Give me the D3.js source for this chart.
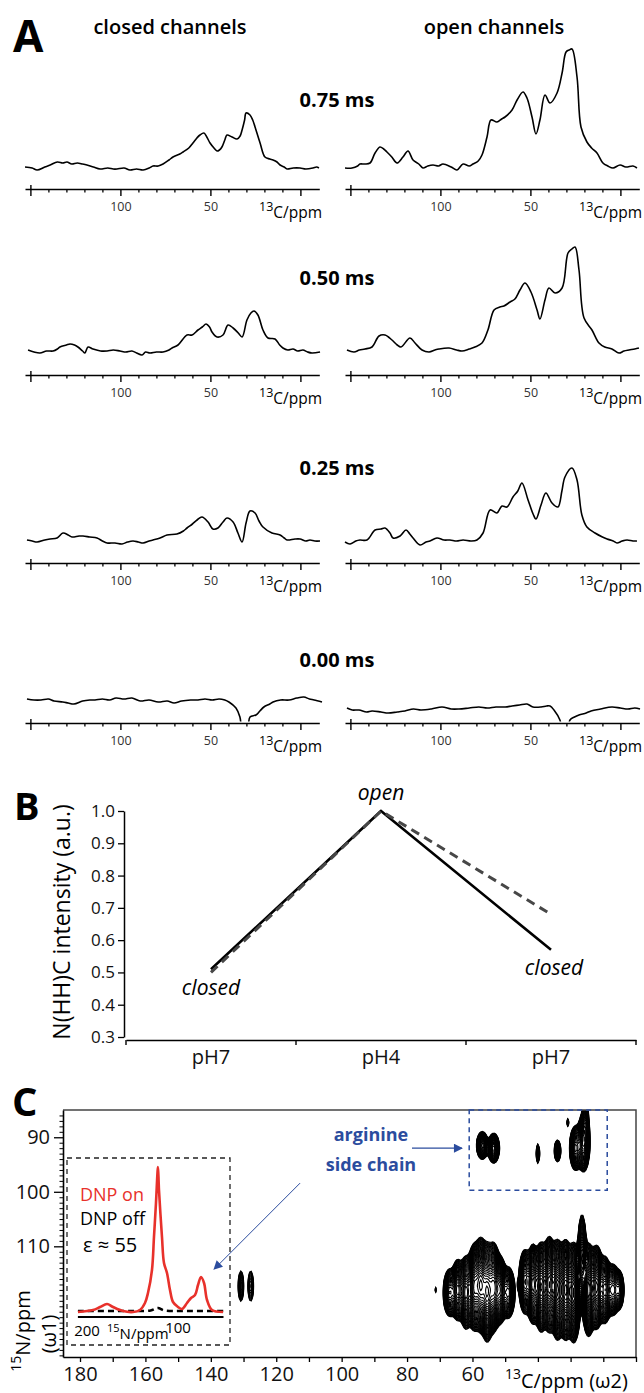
<!DOCTYPE html>
<html>
<head>
<meta charset="utf-8">
<script src="https://cdn.jsdelivr.net/npm/d3@7"></script>
<style>
  body { margin: 0; background: #fff; }
  svg { display: block; }
  text { font-family: "Open Sans", "Noto Sans", sans-serif; }
</style>
</head>
<body>
<svg id="fig" width="644" height="1393"></svg>
<script>
// ---- panel A spectra: [13C ppm, intensity] ----
const closed075 = [[153,1],[149,0],[146.3,-2],[142,1],[139,3],[135,6],[132,5],[129.7,6],[127,4],[124,5],[121,4],[118.6,3],[115,1],[111.3,-1],[107,0],[104,-1],[101.9,-1],[98,0],[94.7,-2],[91,-1],[87.4,-2],[84,0],[81.9,2],[79,2],[76.3,4],[73,8],[70.8,11],[67,14],[65.2,16],[62,20],[59.7,25],[57.5,30],[55.8,33],[53.6,35],[52,31],[50.2,25],[48,20],[46.3,17],[45,18],[43.6,21],[42,28],[40.8,33],[38,31],[35.2,29],[33.5,32],[32.4,38],[31,48],[30.2,55],[28,53],[26.5,48],[25.2,41],[22.4,25],[19.7,11],[17,9],[15.2,8],[13,6],[11.3,3],[9,1],[7.4,-1],[4,0],[0.2,0],[-3,-1],[-7,0],[-9,1],[-10.3,0]];
const open075 = [[153,-1],[149.1,-1],[146,1],[144.7,3],[142,3],[139.1,4],[136.3,14],[133.6,20],[131.5,18],[129.7,15],[127,10],[124.1,4],[120.8,10],[118,16],[115.2,7],[112,3],[109.7,-1],[107,1],[104.1,2],[101,1],[98.6,3],[94,0],[90.8,-3],[87.4,3],[84,1],[81.9,3],[79,6],[76.9,12],[74.1,30],[71.9,47],[68.6,45],[66,48],[64.1,50],[60.2,57],[57.4,67],[54.1,75],[51.9,69],[49.1,50],[46.9,33],[44.7,47],[41.9,72],[39.1,64],[35.2,74],[32.4,94],[30.2,115],[28.5,117],[26.9,118],[24.1,90],[21.9,40],[18.6,25],[16,19],[13,14],[9.7,4],[7,1],[4.1,-1],[0.2,2],[-3,0],[-7,1],[-9.2,-1]];
const closed050 = [[151.3,1],[148,-1],[144.7,-2],[141,0],[137.4,0],[135,2],[133.6,4],[130,6],[128,7],[125.5,6],[123.6,4],[121,0],[119.7,-2],[118,4],[115.2,2],[111,0],[107.4,0],[104,1],[100.2,0],[97,-1],[93.6,0],[91,-2],[88,-4],[86,-1],[83.6,-2],[80,-1],[76.3,-1],[73,1],[71.3,3],[68,6],[63,16],[60.2,16],[56.9,21],[54.5,24],[52.4,27],[50.5,24],[49.1,19],[46.3,14],[43,16],[40.2,26],[37.4,23],[34.5,18],[32.4,14],[29.7,31],[27.5,38],[25.8,40],[23.6,36],[20.8,21],[18,13],[14.1,12],[11.5,6],[9.7,3],[7,1],[4.1,2],[1.5,0],[-1.4,1],[-4,-1],[-6.4,-2],[-10.9,-1]];
const open050 = [[151.9,0],[148,-2],[145,0],[141.9,1],[138,3],[134.1,14],[130.8,15],[126.9,10],[124,5],[121.9,3],[116.9,12],[114.1,7],[110.2,0],[106.3,-2],[103,0],[100.8,1],[95.2,2],[91,0],[88,-1],[84,1],[80.8,3],[76.9,7],[73.6,20],[70.2,40],[67,43],[64.7,44],[61.3,48],[58.6,51],[55.8,60],[53,67],[49.7,58],[46.3,40],[44.7,31],[41.9,50],[39.7,62],[36.3,57],[32.4,62],[29.1,97],[27,101],[25.2,103],[23,80],[20.2,32],[15.8,20],[11.9,7],[8.7,3],[4.7,1],[0.8,-3],[-2,-1],[-4.8,0],[-8,1],[-10.3,2]];
const closed025 = [[151.9,1],[149,0],[146.3,-1],[142,1],[139.1,2],[135.2,3],[131.9,8],[129,6],[126.9,4],[123,5],[120.8,5],[117,4],[113,3],[110,0],[107.4,-2],[103,-2],[99.1,-3],[96,-1],[93,0],[90,-1],[87.4,-2],[84,0],[81.9,1],[78,3],[74.1,6],[68.6,7],[65,10],[63,13],[60,17],[57.4,21],[54.7,24],[51.3,19],[48.6,12],[45.8,13],[43,19],[40.8,23],[37.4,19],[34.7,8],[32.4,-1],[30.2,18],[28,30],[25.2,28],[23,20],[20.8,14],[15.8,8],[11.3,6],[9,3],[7.4,1],[3,2],[0.2,2],[-3,0],[-5.3,1],[-8,0],[-10.9,0]];
const open025 = [[153,-1],[150.2,-3],[147,0],[144.7,1],[140.8,1],[136.3,11],[133,12],[130.8,13],[128,8],[126.3,3],[122.4,5],[119.1,11],[117,7],[115.2,3],[111.3,-4],[108,-1],[105.8,0],[101.9,3],[98,1],[94.7,1],[91,0],[87.4,1],[83,0],[79.7,1],[76.3,8],[72.4,31],[68.6,28],[65.8,35],[63,34],[59.7,44],[57,50],[54.7,58],[51.3,41],[48.5,27],[46.9,22],[44.1,36],[41.4,48],[38,38],[34.7,34],[32.5,50],[30.8,64],[26.9,73],[24.1,61],[21.4,26],[18.6,14],[14.1,8],[10,4],[7.4,2],[4,0],[1.9,-2],[-1,0],[-3.7,1],[-7,0],[-9.2,0]];
const closed000 = [[151.9,1],[148,0],[144.1,0],[140,1],[136.9,-1],[132,-2],[129,-3],[125.8,-4],[121,-1],[117,0],[114.1,0],[110,1],[106,0],[102.4,2],[98,1],[93.6,2],[89,-1],[84.1,0],[79,-2],[74,-1],[70.2,-3],[66,-1],[61,0],[56.9,0],[53,1],[49,0],[45.2,1],[42,0],[39.7,-2],[35.8,-8],[33.6,-17],[31.9,-35],[29.7,-35],[28,-17],[24.7,-15],[22.5,-11],[20.3,-7],[17,-4],[15.2,-2],[11,0],[6.3,0],[2,2],[-1.9,3],[-5,1],[-7.6,0],[-12,-2]];
const open000 = [[151.9,2],[149,0],[145.2,0],[141,-2],[138,-1],[133,-2],[129.1,-3],[124,-2],[119.7,-1],[115,1],[110.8,0],[105,1],[99.1,3],[94,1],[89.7,1],[84,2],[78.6,3],[74,2],[69.1,3],[64,3],[60.2,4],[56,5],[51.9,6],[48.6,3],[44.1,3],[41,4],[39.1,4],[36.9,0],[33.6,-10],[31.9,-25],[29.7,-25],[28,-10],[25.5,-7],[23,-5],[19,-3],[16.3,-1],[11,1],[4.7,3],[0,2],[-4.2,1],[-8,2],[-10.9,1]];

const delays = ["0.75 ms", "0.50 ms", "0.25 ms", "0.00 ms"];
const closedSpectra = [closed075, closed050, closed025, closed000];
const openSpectra = [open075, open050, open025, open000];
const ppmMajor = [150, 100, 50, 0];
const ppmLabeled = [100, 50];

// ---- panel B ----
const phCategories = ["pH7 (start)", "pH4", "pH7 (end)"];
const phLabels = ["pH7", "pH4", "pH7"];
const stateLabels = ["closed", "open", "closed"];
const intensitySolid = [0.51, 1.0, 0.57];
const intensityDashed = [0.50, 1.0, 0.68];
const intensityTicks = [0.3, 0.4, 0.5, 0.6, 0.7, 0.8, 0.9, 1.0];

// ---- panel C: 2D peaks [13C ppm, 15N ppm, width C, width N, amplitude] ----
const argininePeaks = [[57,91.5,0.9,1.3,0.35],[53.5,92,0.9,1.4,0.35],[40,93,0.35,1.2,0.15],[34,92.5,0.6,1.2,0.2],[28.5,92,0.9,2.0,0.4],[26,91,0.9,2.5,0.5],[25.5,87,0.5,2.0,0.3],[30.8,87.3,0.25,0.6,0.1]];
const backbonePeaks = [[67,118.5,1.0,2.2,0.35],[64.5,118,0.9,2.6,0.5],[62,118.5,0.9,3.0,0.6],[59.5,117.5,0.9,3.4,0.75],[57.5,117,0.9,3.6,0.85],[55.5,118.5,0.9,3.8,0.85],[53.5,117.5,0.9,3.5,0.75],[51.5,118,0.9,2.8,0.55],[49,118.5,1.0,2.3,0.4],
  [44,116.5,0.9,2.8,0.45],[41.5,117,0.9,3.2,0.65],[39,117.5,0.9,3.5,0.8],[36.5,117,0.9,3.7,0.85],[34,118,0.9,3.8,0.95],[31.5,118,0.9,3.8,0.95],[29,118.5,0.9,3.8,0.95],[26.5,112,0.6,3.5,0.6],[24.5,118,0.9,3.6,0.85],[22,117.5,0.9,3.3,0.75],[19.5,118,0.9,2.8,0.55],[17,118,1.0,2.3,0.4],[15,118,0.7,1.8,0.28]];
const otherPeaks = [[130.8,117.3,0.65,2.1,0.12],[127.8,117.3,0.65,2.1,0.12],[71.3,118,0.3,0.6,0.07],[41.5,110.5,0.25,0.4,0.07],[45.8,117,0.25,0.8,0.08]];
const c13Ticks = d3.range(180, 9, -10);
const c13Labeled = [180, 160, 140, 120, 100, 80, 60];
const n15Labeled = [90, 100, 110];

// ---- inset 1D 15N: [15N ppm, intensity] ----
const dnpOn = [[209.9,0],[193.4,2],[185.7,5],[178,8],[171.4,5],[160.4,1],[149.5,0],[141.8,2],[136.3,9],[133,19],[128.6,42],[126.4,75],[124.2,109],[122.5,140],[122,145],[120.9,122],[117.6,75],[115.4,49],[112.1,39],[108.8,22],[105.5,10],[100,5],[95.6,3],[90.1,9],[85.7,14],[81.3,17],[78,27],[74.7,35],[71.4,29],[68.1,12],[62.6,2],[50.5,0]];
const dnpOff = [[210,1],[150,1],[130,1.5],[122,4],[115,1.5],[90,1],[50,1]];

const svg = d3.select("#fig");
const defs = svg.append("defs");
const mono = "'DejaVu Sans Mono', monospace";

// ================= PANEL A =================
const gA = svg.append("g");
gA.append("text").attr("x", 13).attr("y", 52).attr("font-size", 44).attr("font-weight", 700).text("A");
gA.append("text").attr("x", 170).attr("y", 34).attr("text-anchor", "middle")
  .attr("font-size", 20).attr("font-weight", 600).text("closed channels");
gA.append("text").attr("x", 494).attr("y", 34).attr("text-anchor", "middle")
  .attr("font-size", 20).attr("font-weight", 600).text("open channels");

const xLeft = d3.scaleLinear().domain([153, -10.5]).range([25, 319.3]);
const xRight = d3.scaleLinear().domain([153, -10.5]).range([345, 639.3]);

const rowLayout = [
  { labelY: 107, axisY: 189, base: [168, 167] },
  { labelY: 285, axisY: 375, base: [351, 350] },
  { labelY: 475, axisY: 563, base: [541, 541] },
  { labelY: 667, axisY: 723, base: [700, 710] },
];

const line = d3.line().curve(d3.curveCatmullRom.alpha(0.5));

rowLayout.forEach((row, i) => {
  gA.append("text").attr("x", 337).attr("y", row.labelY).attr("text-anchor", "middle")
    .attr("font-size", 20).attr("font-weight", 700).text(delays[i]);

  [[xLeft, closedSpectra[i]], [xRight, openSpectra[i]]].forEach(([x, data], side) => {
    const y = d3.scaleLinear().domain([0, 100]).range([row.base[side], row.base[side] - 100]);
    const id = `clipA${i}${side}`;
    defs.append("clipPath").attr("id", id).append("rect")
      .attr("x", x.range()[0] - 2).attr("width", x.range()[1] - x.range()[0] + 6)
      .attr("y", row.axisY - 200).attr("height", 198.5);
    gA.append("path")
      .attr("clip-path", `url(#${id})`)
      .attr("d", line.x(d => x(d[0])).y(d => y(d[1]))(data))
      .attr("fill", "none").attr("stroke", "#000").attr("stroke-width", 1.6)
      .attr("stroke-linejoin", "round");

    const ax = gA.append("g").attr("transform", `translate(0,${row.axisY})`)
      .call(d3.axisBottom(x).tickValues(ppmMajor).tickSize(7).tickSizeOuter(0)
        .tickFormat(d => ppmLabeled.includes(d) ? d : ""));
    ax.select(".domain").attr("stroke-width", 1.6);
    ax.selectAll(".tick line").attr("stroke-width", 1.4)
      .attr("y1", d => d === 150 ? -4 : 0);
    ax.selectAll(".tick text").attr("font-family", mono).attr("font-size", 12.5)
      .attr("fill", "#333").attr("y", 13.5);
    const minor = gA.append("g").attr("transform", `translate(0,${row.axisY})`)
      .call(d3.axisBottom(x).tickValues(d3.range(10, 150, 10).filter(d => d % 50 !== 0))
        .tickSize(3.5).tickSizeOuter(0).tickFormat(""));
    minor.select(".domain").remove();
    minor.selectAll(".tick line").attr("stroke-width", 1.3);

    const lab = gA.append("text").attr("x", x(23)).attr("y", row.axisY + 29).attr("font-size", 15.5);
    lab.append("tspan").attr("font-size", 12.5).attr("dy", -7).text("13");
    lab.append("tspan").attr("dy", 7).text("C/ppm");
  });
});

// ================= PANEL B =================
const gB = svg.append("g");
gB.append("text").attr("x", 14).attr("y", 820).attr("font-size", 38).attr("font-weight", 700).text("B");

const xB = d3.scaleBand().domain(phCategories).range([126, 636]);
const yB = d3.scaleLinear().domain([0.3, 1.0]).range([1037, 811]);

const yAxB = gB.append("g").attr("transform", "translate(124,0)")
  .call(d3.axisLeft(yB).tickValues(intensityTicks).tickFormat(d3.format(".1f")).tickSize(6).tickSizeOuter(0));
yAxB.select(".domain").attr("stroke-width", 1.5);
yAxB.selectAll(".tick line").attr("stroke-width", 1.3);
yAxB.selectAll(".tick text").attr("font-size", 17).attr("fill", "#111");

const xAxB = gB.append("g").attr("transform", "translate(0,1040)")
  .call(d3.axisBottom(xB).tickSize(0).tickSizeOuter(0).tickFormat((d, i) => phLabels[i]));
xAxB.select(".domain").attr("stroke-width", 1.5);
xAxB.selectAll(".tick text").attr("font-size", 20).attr("y", 10).attr("fill", "#111");
gB.selectAll("line.edge")
  .data(phCategories.map(d => xB(d)).concat([xB.range()[1]]))
  .join("line").attr("class", "edge")
  .attr("x1", d => d).attr("x2", d => d).attr("y1", 1040).attr("y2", 1045)
  .attr("stroke", "#000").attr("stroke-width", 1.4);

const bLine = d3.line().x((d, i) => xB(phCategories[i]) + xB.bandwidth() / 2).y(d => yB(d));
gB.append("path").attr("d", bLine(intensitySolid)).attr("fill", "none")
  .attr("stroke", "#000").attr("stroke-width", 2.6);
gB.append("path").attr("d", bLine(intensityDashed)).attr("fill", "none")
  .attr("stroke", "#474747").attr("stroke-width", 3).attr("stroke-dasharray", "9,6");

const stateY = [995, 800, 975];
gB.selectAll("text.state").data(stateLabels).join("text").attr("class", "state")
  .attr("x", (d, i) => xB(phCategories[i]) + xB.bandwidth() / 2 + (i === 2 ? 3 : 0))
  .attr("y", (d, i) => stateY[i])
  .attr("text-anchor", "middle").attr("font-size", 21).attr("font-style", "italic").text(d => d);

gB.append("text").attr("transform", "translate(70,922) rotate(-90)")
  .attr("text-anchor", "middle").attr("font-size", 23).text("N(HH)C intensity (a.u.)");

// ================= PANEL C =================
const gC = svg.append("g");
gC.append("text").attr("x", 12).attr("y", 1116).attr("font-size", 40).attr("font-weight", 700).text("C");

const cx0 = 63, cx1 = 636, cy0 = 1110, cy1 = 1357;
const xC = d3.scaleLinear().domain([185.2, 10]).range([cx0, cx1]);
const yN = d3.scaleLinear().domain([85, 130.3]).range([cy0, cy1]);

defs.append("clipPath").attr("id", "clipC").append("rect")
  .attr("x", cx0).attr("y", cy0).attr("width", cx1 - cx0).attr("height", cy1 - cy0);

// contour map from the peak list
const allPeaks = argininePeaks.concat(backbonePeaks, otherPeaks);
const nx = 382, ny = 165;
const gx = d3.scaleLinear().domain([0, nx]).range([cx0, cx1]);
const gy = d3.scaleLinear().domain([0, ny]).range([cy0, cy1]);
const values = new Float64Array(nx * ny);
for (let j = 0; j < ny; j++) {
  const n = yN.invert(gy(j + 0.5));
  for (let i = 0; i < nx; i++) {
    const c = xC.invert(gx(i + 0.5));
    let v = 0;
    for (const [c0, n0, wc, wn, a] of allPeaks) {
      const dc = (c - c0) / wc, dn = (n - n0) / wn;
      v += a * Math.exp(-0.5 * (dc * dc + dn * dn));
    }
    values[j * nx + i] = v;
  }
}
const levels = d3.range(48).map(k => 0.05 * Math.pow(1.085, k));
const contours = d3.contours().size([nx, ny]).thresholds(levels)(values);
const proj = d3.geoPath(d3.geoTransform({ point(x, y) { this.stream.point(gx(x), gy(y)); } }));
gC.append("g").attr("clip-path", "url(#clipC)")
  .selectAll("path").data(contours).join("path")
  .attr("d", proj).attr("fill", "none").attr("stroke", "#000").attr("stroke-width", 1.1);

// frame
gC.append("path").attr("d", `M${cx0},${cy0}H${cx1}V${cy1}`).attr("fill", "none")
  .attr("stroke", "#444").attr("stroke-width", 1.5);

const yAxC = gC.append("g").attr("transform", `translate(${cx0},0)`)
  .call(d3.axisLeft(yN).tickValues(n15Labeled).tickSize(9).tickPadding(4).tickSizeOuter(0));
yAxC.select(".domain").attr("stroke-width", 1.6);
yAxC.selectAll(".tick line").attr("stroke-width", 1.3);
yAxC.selectAll(".tick text").attr("font-size", 20).attr("fill", "#111");
const yMinC = gC.append("g").attr("transform", `translate(${cx0},0)`)
  .call(d3.axisLeft(yN).tickValues(d3.range(86, 131).filter(d => !n15Labeled.includes(d)))
    .tickSize(3.5).tickSizeOuter(0).tickFormat(""));
yMinC.select(".domain").remove();
yMinC.selectAll(".tick line").attr("stroke-width", 1);

const xAxC = gC.append("g").attr("transform", `translate(0,${cy1})`)
  .call(d3.axisBottom(xC).tickValues(c13Ticks).tickSize(5).tickPadding(5).tickSizeOuter(0)
    .tickFormat(d => c13Labeled.includes(d) ? d : ""));
xAxC.select(".domain").attr("stroke-width", 1.6);
xAxC.selectAll(".tick line").attr("stroke-width", 1.3);
xAxC.selectAll(".tick text").attr("font-size", 20).attr("fill", "#111");

const c13Lab = gC.append("text").attr("x", 505).attr("y", 1388).attr("font-size", 20);
c13Lab.append("tspan").attr("font-size", 14).attr("dy", -9).text("13");
c13Lab.append("tspan").attr("dy", 9).text("C/ppm (ω2)");

const n15Lab = gC.append("text").attr("transform", "translate(30,1331) rotate(-90)")
  .attr("text-anchor", "middle").attr("font-size", 20);
n15Lab.append("tspan").attr("font-size", 14).attr("dy", -9).text("15");
n15Lab.append("tspan").attr("dy", 9).text("N/ppm");
gC.append("text").attr("transform", "translate(56,1334) rotate(-90)")
  .attr("text-anchor", "middle").attr("font-size", 20).text("(ω1)");

// inset
const gI = gC.append("g");
gI.append("rect").attr("x", 67).attr("y", 1158).attr("width", 163).attr("height", 187)
  .attr("fill", "#fff").attr("stroke", "#222").attr("stroke-width", 1.3).attr("stroke-dasharray", "5,4");
const xI = d3.scaleLinear().domain([200, 100]).range([87, 178]);
const yI = d3.scaleLinear().domain([0, 145]).range([1312, 1167]);
gI.append("line").attr("x1", xI(210)).attr("x2", xI(50)).attr("y1", 1317).attr("y2", 1317)
  .attr("stroke", "#000").attr("stroke-width", 2);
const iLine = d3.line().x(d => xI(d[0])).y(d => yI(d[1])).curve(d3.curveCatmullRom.alpha(0.5));
gI.append("path").attr("d", iLine(dnpOff)).attr("fill", "none").attr("stroke", "#000")
  .attr("stroke-width", 2.5).attr("stroke-dasharray", "6,4");
gI.append("path").attr("d", iLine(dnpOn)).attr("fill", "none").attr("stroke", "#e8312b")
  .attr("stroke-width", 2.6).attr("stroke-linejoin", "round");
gI.append("text").attr("x", xI(200)).attr("y", 1336).attr("text-anchor", "middle").attr("font-size", 15).text("200");
gI.append("text").attr("x", xI(100)).attr("y", 1333).attr("text-anchor", "middle").attr("font-size", 15).text("100");
const iLab = gI.append("text").attr("x", 107).attr("y", 1339).attr("font-size", 15);
iLab.append("tspan").attr("font-size", 11).attr("dy", -7).text("15");
iLab.append("tspan").attr("dy", 7).text("N/ppm");
gI.append("text").attr("x", 80).attr("y", 1201).attr("font-size", 18).attr("fill", "#e8312b").text("DNP on");
gI.append("text").attr("x", 80).attr("y", 1225).attr("font-size", 18).attr("fill", "#000").text("DNP off");
gI.append("text").attr("x", 83).attr("y", 1252).attr("font-size", 20)
  .attr("font-family", "'Liberation Serif', 'DejaVu Serif', serif").text("ε ≈ 55");

// arginine box + annotation
const blue = "#2b4c9e";
gC.append("rect").attr("x", xC(61)).attr("y", yN(85)).attr("width", xC(18.8) - xC(61))
  .attr("height", yN(99.7) - yN(85)).attr("fill", "none")
  .attr("stroke", blue).attr("stroke-width", 1.5).attr("stroke-dasharray", "5,4");
gC.append("text").attr("x", 371).attr("y", 1141).attr("text-anchor", "middle")
  .attr("font-size", 18).attr("font-weight", 700).attr("fill", blue).text("arginine");
gC.append("text").attr("x", 371).attr("y", 1171).attr("text-anchor", "middle")
  .attr("font-size", 18).attr("font-weight", 700).attr("fill", blue).text("side chain");

defs.append("marker").attr("id", "arrowBlue").attr("viewBox", "0 0 10 10")
  .attr("refX", 9).attr("refY", 5).attr("markerWidth", 10).attr("markerHeight", 9)
  .attr("markerUnits", "userSpaceOnUse").attr("orient", "auto")
  .append("path").attr("d", "M0,0L10,5L0,10Z").attr("fill", blue);
gC.append("line").attr("x1", xC(78.5)).attr("y1", yN(92)).attr("x2", xC(63.2)).attr("y2", yN(92))
  .attr("stroke", blue).attr("stroke-width", 1.2).attr("marker-end", "url(#arrowBlue)");
gC.append("line").attr("x1", xC(112.7)).attr("y1", yN(98.4)).attr("x2", xC(139)).attr("y2", yN(114.2))
  .attr("stroke", blue).attr("stroke-width", 1).attr("marker-end", "url(#arrowBlue)");
</script>
</body>
</html>
